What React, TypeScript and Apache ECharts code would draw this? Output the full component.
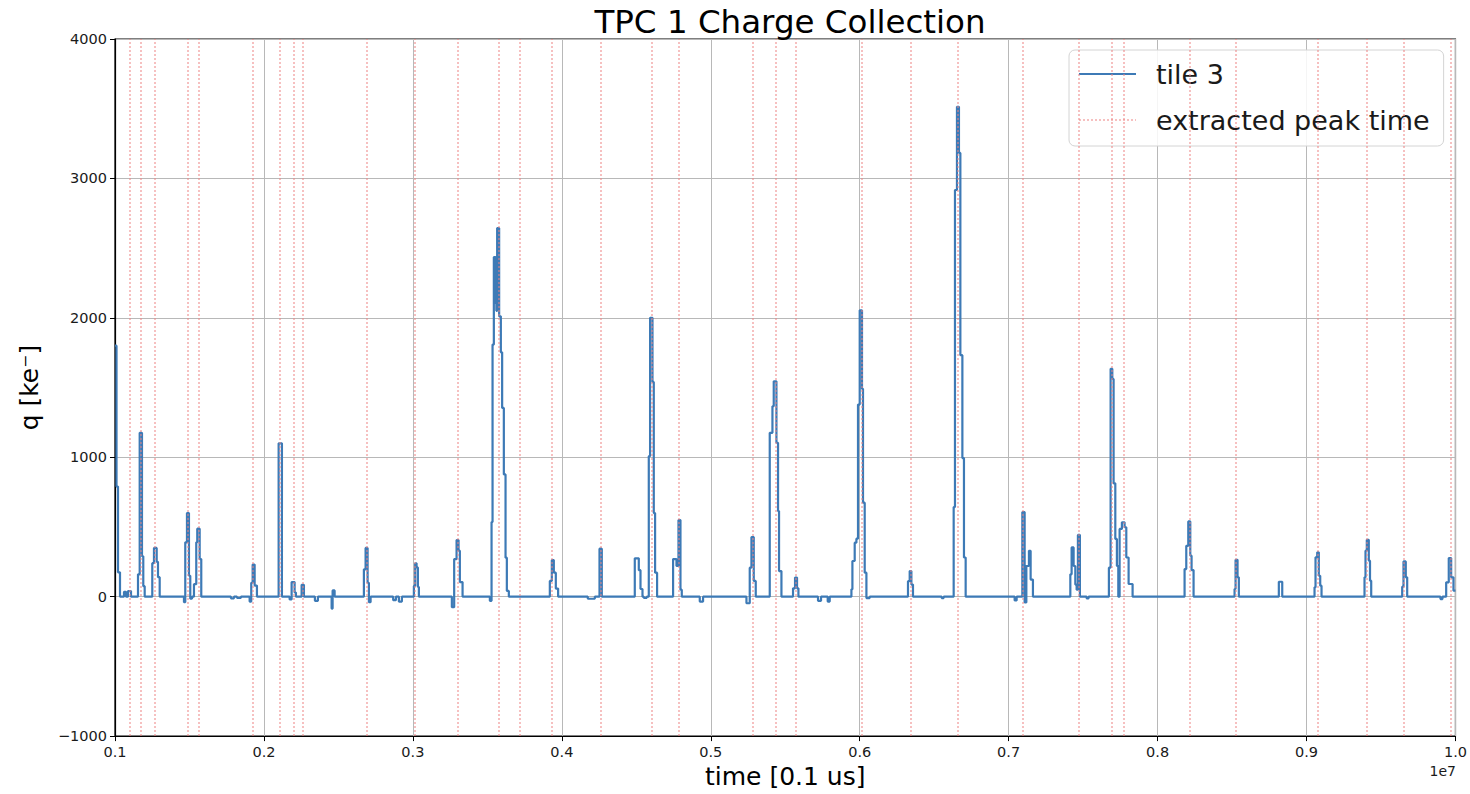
import React, { useEffect, useRef } from "react";
import * as echarts from "echarts";

const TITLE = "TPC 1 Charge Collection";
const X_NAME = "time [0.1 us]";
const Y_NAME = "q [ke⁻]";
const X_OFFSET_LABEL = "1e7";
const SERIES_NAME = "tile 3";
const PEAK_NAME = "extracted peak time";

const X_MIN = 1000000;
const X_MAX = 10000000;
const X_STEP = 1000000;
const Y_MIN = -1000;
const Y_MAX = 4000;
const Y_STEP = 1000;

// [time, charge] samples of the tile 3 waveform (step signal)
const TILE3_SAMPLES: [number, number][] = [
  [1000000, 1800], [1010100, 790], [1020100, 175], [1033600, 0],
  [1060400, 35], [1073800, 0], [1087200, 40], [1107400, 0],
  [1154400, 160], [1165800, 1175], [1181200, 290], [1189900, 75], [1199300, 0],
  [1250300, 240], [1261700, 350], [1279900, 250], [1288600, 140], [1300000, 0],
  [1463100, -40], [1471800, 390], [1483200, 600], [1496600, 150], [1505400, -15], [1516800, 0],
  [1530200, 90], [1545600, 390], [1552300, 488], [1568500, 270], [1579200, 0],
  [1778500, -12], [1798700, 0], [1818800, -8], [1845600, 0],
  [1904000, -35], [1914800, 100], [1924200, 230], [1937600, 80], [1953000, 0],
  [2098700, 1100], [2120800, 0],
  [2172500, -20], [2185900, 105], [2206000, 30], [2214800, 0],
  [2253000, 85], [2268500, 0],
  [2342300, -30], [2362400, 0],
  [2454400, -85], [2461100, 45], [2474500, 0],
  [2671100, 196], [2682500, 350], [2696000, 100], [2704700, -40], [2716100, 0],
  [2867800, -25], [2885900, 0], [2906000, -35], [2926200, 0],
  [3006700, 77], [3015400, 239], [3024800, 210], [3033600, 70], [3040300, 0],
  [3261700, -75], [3277200, 270], [3293300, 406], [3306700, 330], [3315400, 105], [3333600, 0],
  [3516800, -30], [3528200, 535], [3534900, 1808], [3543600, 2436], [3550300, 2100],
  [3555000, 2436], [3560400, 2050], [3565800, 2644], [3579200, 2011], [3590600, 1753],
  [3599300, 1354], [3610700, 877], [3622100, 280], [3630900, 41], [3644300, 0],
  [3919500, 113], [3932900, 263], [3946300, 172], [3959700, 58], [3975200, 0],
  [4174500, -15], [4221500, 0],
  [4253000, 344], [4268500, 0],
  [4489900, 275], [4516800, 190], [4528200, 55], [4541600, 0], [4550300, -8], [4570500, 0],
  [4583900, 1008], [4592600, 2000], [4608700, 1540], [4617400, 600], [4626200, 172], [4639600, 0],
  [4747000, 270], [4769800, 220], [4783200, 550], [4796600, 50], [4805400, 0],
  [4926200, -35], [4948300, 0],
  [5239600, -47], [5261700, 208], [5273100, 428], [5288600, 113], [5302000, 0],
  [5396000, 1175], [5414100, 1366], [5422800, 1545], [5440900, 1104], [5451700, 614],
  [5458400, 184], [5474500, 0],
  [5552300, 60], [5565800, 137], [5579200, 60], [5588600, 0],
  [5720100, -30], [5740300, 0], [5785200, -35], [5798700, 0],
  [5944300, 53], [5951000, 256], [5966400, 387], [5977800, 416], [5988600, 1378],
  [6000000, 2054], [6015400, 1491], [6022100, 674], [6033600, 172], [6045000, -10], [6067100, 0],
  [6324200, 111], [6335600, 184], [6347000, 87], [6357700, 0],
  [6550300, -10], [6563800, 0],
  [6630900, 643], [6639600, 2917], [6653000, 3514], [6666400, 3183], [6675800, 1732],
  [6689300, 994], [6700000, 281], [6711400, 0],
  [7040300, -27], [7053700, 0],
  [7091900, 607], [7107400, -41], [7118800, 220], [7136200, 329], [7147600, 123], [7163100, 0],
  [7414100, 160], [7422800, 353], [7436200, 220], [7447600, 87], [7456400, 50], [7465100, 443], [7478500, 0],
  [7523500, -12], [7536900, 0],
  [7673100, 208], [7684600, 1635], [7696000, 1562], [7704700, 813], [7716100, 414], [7726800, 220],
  [7736200, 0], [7745000, 486], [7760400, 534], [7778500, 498], [7789900, 281], [7805400, 91], [7832200, 0],
  [8181200, 198], [8192600, 365], [8206000, 540], [8219500, 294], [8228200, 191], [8241600, 0],
  [8516800, 55], [8523500, 265], [8536900, 139], [8545600, 0],
  [8814100, 107], [8836900, 0],
  [9053700, 67], [9060400, 282], [9071800, 318], [9082500, 150], [9091900, 79], [9100700, 0],
  [9389300, 139], [9396000, 330], [9404700, 408], [9418100, 258], [9426200, 115], [9434200, 0],
  [9642300, 72], [9651000, 253], [9666400, 139], [9675800, 0],
  [9899300, -17], [9912700, 0],
  [9937600, 103], [9955000, 277], [9971100, 139], [9986600, 43], [10000000, 43],
];

// extracted peak times (vertical dotted lines)
const PEAK_TIMES: number[] = [
  1101000, 1174000, 1270000, 1488000, 1559000, 1928000, 2109000, 2197000, 2260000,
  2689000, 3015000, 3304000, 3575000, 3720000, 3935000, 4262000, 4604000, 4783000,
  5280000, 5434000, 5570000, 6011000, 6342000, 6656000, 7096000, 7472000, 7689000,
  7774000, 8215000, 8523000, 9074000, 9403000, 9651000, 9966000,
];

const FONT = "DejaVu Sans";
const BLUE = "#3d7ab6";
const PEAK_RED = "rgba(238,130,130,0.5)";

export default function App() {
  const ref = useRef<HTMLDivElement | null>(null);

  useEffect(() => {
    if (!ref.current) return;
    const chart = echarts.init(ref.current, undefined, { renderer: "svg" });
    const option: any = {
      animation: false,
      backgroundColor: "#ffffff",
      title: {
        text: TITLE,
        left: 785,
        textAlign: "center",
        top: 0,
        textStyle: { fontFamily: FONT, fontSize: 32.5, fontWeight: "normal", color: "#000" },
      },
      grid: {
        left: 115,
        right: 14,
        top: 39,
        bottom: 57,
        show: true,
        borderColor: "#000",
        borderWidth: 1.2,
        backgroundColor: "transparent",
      },
      legend: {
        left: 1069,
        top: 50,
        orient: "vertical",
        itemWidth: 57,
        itemHeight: 14,
        itemGap: 18,
        padding: [10, 14, 12, 9],
        backgroundColor: "rgba(255,255,255,0.85)",
        borderColor: "#d4d4d4",
        borderWidth: 1,
        borderRadius: 6,
        itemStyle: { opacity: 0 },
        textStyle: {
          fontFamily: FONT,
          fontSize: 27,
          color: "#1a1a1a",
          lineHeight: 28,
          padding: [0, 0, 0, 15],
        },
        data: [SERIES_NAME, PEAK_NAME],
      },
      xAxis: {
        type: "value",
        min: X_MIN,
        max: X_MAX,
        interval: X_STEP,
        name: X_NAME,
        nameLocation: "middle",
        nameGap: 25,
        nameTextStyle: { fontFamily: FONT, fontSize: 25, color: "#000" },
        axisLine: { show: true, onZero: false, lineStyle: { color: "#000", width: 1.2 } },
        axisTick: { show: true, length: 5, lineStyle: { color: "#000" } },
        axisLabel: {
          margin: 8,
          fontFamily: FONT,
          fontSize: 14.5,
          color: "#1a1a1a",
          formatter: (v: number) => (v / 10000000).toFixed(1),
        },
        splitLine: { show: true, lineStyle: { color: "#b8b8b8", width: 1 } },
      },
      yAxis: {
        type: "value",
        min: Y_MIN,
        max: Y_MAX,
        interval: Y_STEP,
        name: Y_NAME,
        nameLocation: "middle",
        nameGap: 73,
        nameRotate: 90,
        nameTextStyle: { fontFamily: FONT, fontSize: 25, color: "#000" },
        axisLine: { show: true, lineStyle: { color: "#000", width: 1.2 } },
        axisTick: { show: true, length: 5, lineStyle: { color: "#000" } },
        axisLabel: {
          margin: 8,
          fontFamily: FONT,
          fontSize: 14.5,
          color: "#1a1a1a",
          formatter: (v: number) => (v < 0 ? "\u2212" + Math.abs(v) : String(v)),
        },
        splitLine: { show: true, lineStyle: { color: "#b8b8b8", width: 1 } },
      },
      graphic: [
        {
          type: "text",
          right: 14,
          top: 764,
          style: { text: X_OFFSET_LABEL, fontFamily: FONT, fontSize: 14, fill: "#1a1a1a" },
        },
      ],
      series: [
        {
          name: SERIES_NAME,
          type: "line",
          data: TILE3_SAMPLES,
          step: "end",
          symbol: "none",
          z: 3,
          lineStyle: { color: BLUE, width: 2.2 },
          itemStyle: { color: BLUE },
        },
        {
          name: PEAK_NAME,
          type: "line",
          data: [],
          symbol: "none",
          z: 2,
          lineStyle: { color: PEAK_RED, width: 2, type: "dotted" },
          itemStyle: { color: PEAK_RED },
          markLine: {
            silent: true,
            symbol: ["none", "none"],
            label: { show: false },
            lineStyle: { color: PEAK_RED, width: 2, type: "dotted" },
            data: PEAK_TIMES.map((t) => ({ xAxis: t })),
          },
        },
      ],
    };
    chart.setOption(option);
    return () => chart.dispose();
  }, []);

  return (
    <div
      ref={ref}
      style={{ position: "absolute", left: 0, top: 0, width: 1470, height: 794 }}
    />
  );
}
